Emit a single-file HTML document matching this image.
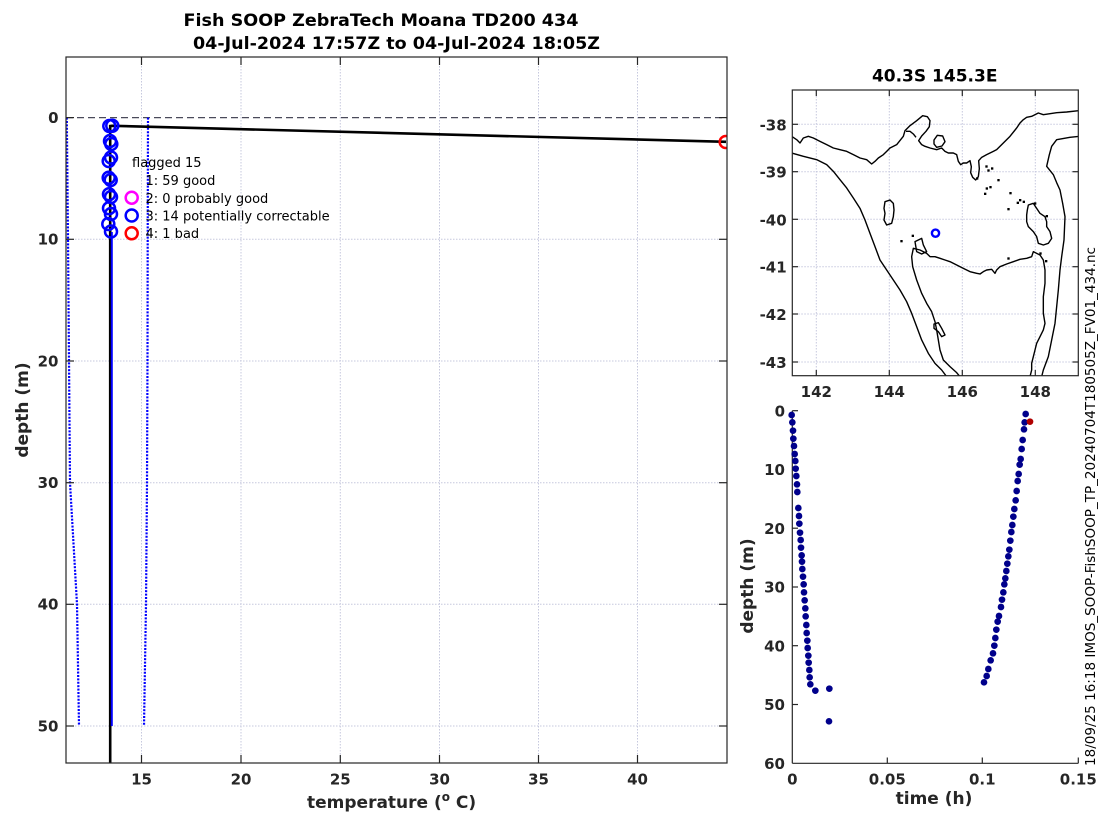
<!DOCTYPE html>
<html><head><meta charset="utf-8"><style>html,body{margin:0;padding:0;background:#fff}svg{display:block}</style></head>
<body>
<svg width="1100" height="820" viewBox="0 0 1100 820" xmlns="http://www.w3.org/2000/svg" font-family="'DejaVu Sans','Liberation Sans',sans-serif" fill="#262626">
<rect width="1100" height="820" fill="#fff"/>
<defs>
<clipPath id="cm"><rect x="792.3" y="90" width="286" height="285.7"/></clipPath>
<clipPath id="cp"><rect x="66" y="57" width="661" height="706"/></clipPath>
</defs>

<!-- ===== MAIN PLOT ===== -->
<text x="381" y="26" font-size="17" font-weight="bold" text-anchor="middle" textLength="395" lengthAdjust="spacingAndGlyphs" fill="#000">Fish SOOP ZebraTech Moana TD200 434</text>
<text x="396.5" y="49" font-size="17" font-weight="bold" text-anchor="middle" textLength="407" lengthAdjust="spacingAndGlyphs" fill="#000">04-Jul-2024 17:57Z to 04-Jul-2024 18:05Z</text>

<g stroke="#c6c8de" stroke-width="1" stroke-dasharray="1.5,1.5" fill="none">
<line x1="141.5" y1="57" x2="141.5" y2="763"/><line x1="241" y1="57" x2="241" y2="763"/><line x1="340.3" y1="57" x2="340.3" y2="763"/><line x1="439.5" y1="57" x2="439.5" y2="763"/><line x1="538.5" y1="57" x2="538.5" y2="763"/><line x1="637.5" y1="57" x2="637.5" y2="763"/>
<line x1="66" y1="239.3" x2="727" y2="239.3"/><line x1="66" y1="361" x2="727" y2="361"/><line x1="66" y1="482.7" x2="727" y2="482.7"/><line x1="66" y1="604.3" x2="727" y2="604.3"/><line x1="66" y1="726" x2="727" y2="726"/>
</g>

<g clip-path="url(#cp)">
<line x1="66" y1="117.6" x2="727" y2="117.6" stroke="#4a4a5a" stroke-width="1.3" stroke-dasharray="7,4"/>
<polyline points="66.8,117.6 68,239.3 69,361 70,482.7 77,604.3 79,726" fill="none" stroke="#0000ff" stroke-width="2.2" stroke-dasharray="2,1.4"/>
<polyline points="148,117.6 147.7,239.3 147.5,361 147,482.7 146,604.3 144,726" fill="none" stroke="#0000ff" stroke-width="2.2" stroke-dasharray="2,1.4"/>
<polyline points="110.2,763 110.2,126 112,125.8 726,141.8" fill="none" stroke="#000" stroke-width="2.6"/>
<line x1="111.8" y1="232" x2="111.8" y2="726" stroke="#0000ff" stroke-width="2"/>
<g fill="none" stroke="#0000ff" stroke-width="2.5">
<circle cx="109.3" cy="126" r="6"/><circle cx="112.3" cy="125.7" r="6"/>
<circle cx="110" cy="141" r="6"/><circle cx="111.3" cy="144" r="6"/>
<circle cx="108.7" cy="161" r="6"/><circle cx="111" cy="157.5" r="6"/>
<circle cx="108.7" cy="177.7" r="6"/><circle cx="110.7" cy="180" r="6"/>
<circle cx="109" cy="194.3" r="6"/><circle cx="111" cy="197" r="6"/>
<circle cx="109" cy="208.3" r="6"/><circle cx="111" cy="214" r="6"/>
<circle cx="108.3" cy="224" r="6"/><circle cx="111" cy="231.5" r="6"/>
</g>
<circle cx="725.7" cy="142" r="6" fill="none" stroke="#ff0000" stroke-width="2.5"/>
</g>

<!-- legend -->
<g font-size="13" fill="#000">
<text x="132" y="167">flagged 15</text>
<text x="145.5" y="185">1: 59 good</text>
<text x="145.5" y="203">2: 0 probably good</text>
<text x="145.5" y="220.5">3: 14 potentially correctable</text>
<text x="145.5" y="238">4: 1 bad</text>
</g>
<circle cx="131.7" cy="197.7" r="6" fill="none" stroke="#ff00ff" stroke-width="2.5"/>
<circle cx="131.7" cy="215.5" r="6" fill="none" stroke="#0000ff" stroke-width="2.5"/>
<circle cx="131.7" cy="233.3" r="6" fill="none" stroke="#ff0000" stroke-width="2.5"/>

<!-- axes box and ticks -->
<rect x="66" y="57" width="661" height="706" fill="none" stroke="#262626" stroke-width="1.2"/>
<g stroke="#262626" stroke-width="1.2">
<line x1="141.5" y1="763" x2="141.5" y2="755"/><line x1="241" y1="763" x2="241" y2="755"/><line x1="340.3" y1="763" x2="340.3" y2="755"/><line x1="439.5" y1="763" x2="439.5" y2="755"/><line x1="538.5" y1="763" x2="538.5" y2="755"/><line x1="637.5" y1="763" x2="637.5" y2="755"/>
<line x1="141.5" y1="57" x2="141.5" y2="65"/><line x1="241" y1="57" x2="241" y2="65"/><line x1="340.3" y1="57" x2="340.3" y2="65"/><line x1="439.5" y1="57" x2="439.5" y2="65"/><line x1="538.5" y1="57" x2="538.5" y2="65"/><line x1="637.5" y1="57" x2="637.5" y2="65"/>
<line x1="66" y1="117.6" x2="74" y2="117.6"/><line x1="66" y1="239.3" x2="74" y2="239.3"/><line x1="66" y1="361" x2="74" y2="361"/><line x1="66" y1="482.7" x2="74" y2="482.7"/><line x1="66" y1="604.3" x2="74" y2="604.3"/><line x1="66" y1="726" x2="74" y2="726"/>
<line x1="727" y1="117.6" x2="719" y2="117.6"/><line x1="727" y1="239.3" x2="719" y2="239.3"/><line x1="727" y1="361" x2="719" y2="361"/><line x1="727" y1="482.7" x2="719" y2="482.7"/><line x1="727" y1="604.3" x2="719" y2="604.3"/><line x1="727" y1="726" x2="719" y2="726"/>
</g>
<g font-size="15" font-weight="bold" text-anchor="end">
<text x="58.5" y="123">0</text><text x="58.5" y="244.7">10</text><text x="58.5" y="366.4">20</text><text x="58.5" y="488.1">30</text><text x="58.5" y="609.7">40</text><text x="58.5" y="731.4">50</text>
</g>
<g font-size="15" font-weight="bold" text-anchor="middle">
<text x="141.5" y="784.5">15</text><text x="241" y="784.5">20</text><text x="340.3" y="784.5">25</text><text x="439.5" y="784.5">30</text><text x="538.5" y="784.5">35</text><text x="637.5" y="784.5">40</text>
</g>
<text x="307" y="808" font-size="17" font-weight="bold">temperature (<tspan dy="-7" font-size="12">o</tspan><tspan dy="7"> C)</tspan></text>
<text transform="translate(28,410) rotate(-90)" font-size="17" font-weight="bold" text-anchor="middle">depth (m)</text>

<!-- ===== MAP ===== -->
<text x="934.7" y="81.5" font-size="17" font-weight="bold" text-anchor="middle" fill="#000">40.3S 145.3E</text>
<g stroke="#c6c8de" stroke-width="1" stroke-dasharray="1.5,1.5" fill="none">
<line x1="816.3" y1="90" x2="816.3" y2="375.7"/><line x1="889.3" y1="90" x2="889.3" y2="375.7"/><line x1="962.3" y1="90" x2="962.3" y2="375.7"/><line x1="1035.3" y1="90" x2="1035.3" y2="375.7"/>
<line x1="792.3" y1="124.3" x2="1078.3" y2="124.3"/><line x1="792.3" y1="171.7" x2="1078.3" y2="171.7"/><line x1="792.3" y1="219.3" x2="1078.3" y2="219.3"/><line x1="792.3" y1="266.7" x2="1078.3" y2="266.7"/><line x1="792.3" y1="314" x2="1078.3" y2="314"/><line x1="792.3" y1="362" x2="1078.3" y2="362"/>
</g>
<g clip-path="url(#cm)">
<g transform="translate(730,60) scale(0.33333)" fill="none" stroke="#000" stroke-width="4.2" stroke-linejoin="round">
<!-- Victoria coast -->
<polyline points="185,229 200,239 210,249 220,234 235,229 250,234 270,244 290,254 310,264 330,269 350,274 370,284 390,294 410,299 425,312 435,304 445,294 460,284 470,274 480,264 500,254 520,229 525,212 540,197 560,182 578,167 592,170 600,182 598,200 588,214 575,228 566,242 575,254 585,259 600,264 620,269 635,264 645,274 655,279 670,279 680,284 685,304 692,314 700,309 710,309 720,302 724,320 722,338 728,352 737,360 745,350 748,326 746,302 755,292 770,284 780,279 790,274 800,269 820,249 840,229 860,204 870,189 880,179 890,172 905,169 925,159 940,164 960,161 980,158 1010,156 1046,152"/>
<polyline points="528,214 540,214 550,222 558,232"/>
<polygon points="612,240 622,226 638,228 645,245 636,258 620,262 612,252"/>
<!-- shelf contours -->
<polyline points="185,279 220,289 260,299 290,314 310,334 330,359 350,384 370,414 390,445 405,480 420,520 435,560 450,600 470,630 490,660 510,690 530,725 545,760 560,800 575,840 595,880 615,910 635,930 650,950"/>
<polyline points="1048,229 1020,232 980,239 965,259 958,284 950,319 970,344 980,368 990,390 998,430 1005,470 1002,540 995,590 990,630 985,690 980,740 975,790 965,840 955,890 940,930 935,950"/>
<!-- King Island -->
<polygon points="465,425 480,420 490,430 492,450 490,470 485,490 470,495 462,480 465,460 462,445"/>
<!-- Flinders Island -->
<polygon points="895,435 910,430 920,445 930,460 945,470 950,485 950,500 960,515 965,535 955,550 940,555 925,550 920,530 910,515 895,500 890,485 890,465 892,450"/>
<!-- Tasmania -->
<polyline points="690,950 680,938 660,920 640,900 630,870 625,840 620,810 615,785 605,755 590,730 575,700 560,660 548,620 545,590 550,565 570,570 590,580 600,590 615,590 630,595 645,600 660,605 680,615 700,625 720,635 740,640 750,642 760,635 770,630 785,628 795,640 800,630 810,620 830,612 850,605 870,598 890,595 905,590 910,575 920,580 930,585 940,600 945,630 945,670 940,710 940,760 945,790 940,810 930,830 920,850 915,870 910,890 905,910 905,930 900,950"/>
<polygon points="555,545 575,535 580,555 590,575 575,582 560,575"/>
<polygon points="612,792 625,788 635,805 645,825 635,830 625,815 612,805"/>
</g>
<g transform="translate(730,60) scale(0.33333)" fill="#000">
<rect x="766" y="316" width="7" height="7"/><rect x="772" y="328" width="7" height="7"/><rect x="738" y="352" width="7" height="7"/><rect x="767" y="382" width="7" height="7"/><rect x="762" y="398" width="7" height="7"/><rect x="802" y="357" width="7" height="7"/><rect x="838" y="396" width="7" height="7"/><rect x="832" y="444" width="7" height="7"/><rect x="867" y="417" width="7" height="7"/><rect x="878" y="422" width="7" height="7"/><rect x="832" y="592" width="7" height="7"/><rect x="947" y="465" width="7" height="7"/><rect x="928" y="577" width="7" height="7"/><rect x="912" y="427" width="7" height="7"/><rect x="545" y="524" width="7" height="7"/><rect x="511" y="540" width="7" height="7"/><rect x="778" y="378" width="7" height="7"/><rect x="783" y="322" width="7" height="7"/><rect x="860" y="425" width="7" height="7"/><rect x="945" y="600" width="7" height="7"/>
</g>
</g>
<circle cx="935.5" cy="233.2" r="3.6" fill="none" stroke="#0000ff" stroke-width="2.4"/>
<rect x="792.3" y="90" width="286" height="285.7" fill="none" stroke="#262626" stroke-width="1.2"/>
<g stroke="#262626" stroke-width="1.2">
<line x1="816.3" y1="375.7" x2="816.3" y2="370"/><line x1="889.3" y1="375.7" x2="889.3" y2="370"/><line x1="962.3" y1="375.7" x2="962.3" y2="370"/><line x1="1035.3" y1="375.7" x2="1035.3" y2="370"/>
<line x1="816.3" y1="90" x2="816.3" y2="96"/><line x1="889.3" y1="90" x2="889.3" y2="96"/><line x1="962.3" y1="90" x2="962.3" y2="96"/><line x1="1035.3" y1="90" x2="1035.3" y2="96"/>
<line x1="792.3" y1="124.3" x2="798" y2="124.3"/><line x1="792.3" y1="171.7" x2="798" y2="171.7"/><line x1="792.3" y1="219.3" x2="798" y2="219.3"/><line x1="792.3" y1="266.7" x2="798" y2="266.7"/><line x1="792.3" y1="314" x2="798" y2="314"/><line x1="792.3" y1="362" x2="798" y2="362"/>
<line x1="1078.3" y1="124.3" x2="1072.5" y2="124.3"/><line x1="1078.3" y1="171.7" x2="1072.5" y2="171.7"/><line x1="1078.3" y1="219.3" x2="1072.5" y2="219.3"/><line x1="1078.3" y1="266.7" x2="1072.5" y2="266.7"/><line x1="1078.3" y1="314" x2="1072.5" y2="314"/><line x1="1078.3" y1="362" x2="1072.5" y2="362"/>
</g>
<g font-size="15" font-weight="bold" text-anchor="end">
<text x="786.7" y="130.3">-38</text><text x="786.7" y="177.7">-39</text><text x="786.7" y="225.3">-40</text><text x="786.7" y="272.7">-41</text><text x="786.7" y="320">-42</text><text x="786.7" y="368">-43</text>
</g>
<g font-size="15" font-weight="bold" text-anchor="middle">
<text x="816.3" y="397">142</text><text x="889.3" y="397">144</text><text x="962.3" y="397">146</text><text x="1035.3" y="397">148</text>
</g>

<!-- ===== TIME-DEPTH PLOT ===== -->
<g stroke="#262626" stroke-width="1.2">
<line x1="792.3" y1="410.7" x2="792.3" y2="763.3"/><line x1="792.3" y1="763.3" x2="1078.3" y2="763.3"/>
<line x1="792.3" y1="410.7" x2="798" y2="410.7"/><line x1="792.3" y1="469.4" x2="798" y2="469.4"/><line x1="792.3" y1="528.2" x2="798" y2="528.2"/><line x1="792.3" y1="587" x2="798" y2="587"/><line x1="792.3" y1="645.7" x2="798" y2="645.7"/><line x1="792.3" y1="704.5" x2="798" y2="704.5"/>
<line x1="887.3" y1="763.3" x2="887.3" y2="757.5"/><line x1="982.3" y1="763.3" x2="982.3" y2="757.5"/><line x1="1078.3" y1="763.3" x2="1078.3" y2="757.5"/>
</g>
<g transform="translate(730,390) scale(0.33333)" fill="#00008b">
<circle cx="185" cy="75" r="10"/><circle cx="187" cy="97" r="10"/><circle cx="189" cy="122" r="10"/><circle cx="190" cy="146" r="10"/><circle cx="192" cy="168" r="10"/><circle cx="194" cy="192" r="10"/><circle cx="196" cy="213" r="10"/><circle cx="197" cy="236" r="10"/><circle cx="199" cy="258" r="10"/><circle cx="201" cy="283" r="10"/><circle cx="202" cy="306" r="10"/><circle cx="205" cy="354" r="10"/><circle cx="207" cy="378" r="10"/><circle cx="208" cy="401" r="10"/><circle cx="210" cy="428" r="10"/><circle cx="212" cy="450" r="10"/><circle cx="213" cy="473" r="10"/><circle cx="215" cy="496" r="10"/><circle cx="216" cy="515" r="10"/><circle cx="217" cy="537" r="10"/><circle cx="219" cy="560" r="10"/><circle cx="221" cy="583" r="10"/><circle cx="222" cy="607" r="10"/><circle cx="224" cy="631" r="10"/><circle cx="226" cy="655" r="10"/><circle cx="227" cy="679" r="10"/><circle cx="229" cy="705" r="10"/><circle cx="230" cy="729" r="10"/><circle cx="232" cy="752" r="10"/><circle cx="233" cy="774" r="10"/><circle cx="235" cy="797" r="10"/><circle cx="236" cy="818" r="10"/><circle cx="238" cy="840" r="10"/><circle cx="239" cy="862" r="10"/><circle cx="241" cy="883" r="10"/><circle cx="256" cy="902" r="10"/><circle cx="298" cy="896" r="10"/><circle cx="297" cy="994" r="10"/>
<circle cx="762" cy="877" r="10"/><circle cx="770" cy="858" r="10"/><circle cx="775" cy="837" r="10"/><circle cx="782" cy="811" r="10"/><circle cx="789" cy="790" r="10"/><circle cx="793" cy="767" r="10"/><circle cx="796" cy="744" r="10"/><circle cx="799" cy="719" r="10"/><circle cx="803" cy="695" r="10"/><circle cx="807" cy="678" r="10"/><circle cx="813" cy="651" r="10"/><circle cx="816" cy="629" r="10"/><circle cx="820" cy="607" r="10"/><circle cx="823" cy="583" r="10"/><circle cx="826" cy="565" r="10"/><circle cx="829" cy="543" r="10"/><circle cx="832" cy="521" r="10"/><circle cx="835" cy="499" r="10"/><circle cx="838" cy="479" r="10"/><circle cx="841" cy="452" r="10"/><circle cx="844" cy="426" r="10"/><circle cx="847" cy="405" r="10"/><circle cx="850" cy="380" r="10"/><circle cx="853" cy="357" r="10"/><circle cx="857" cy="331" r="10"/><circle cx="860" cy="303" r="10"/><circle cx="863" cy="273" r="10"/><circle cx="866" cy="252" r="10"/><circle cx="869" cy="224" r="10"/><circle cx="872" cy="207" r="10"/><circle cx="875" cy="177" r="10"/><circle cx="878" cy="150" r="10"/><circle cx="882" cy="118" r="10"/><circle cx="884" cy="97" r="10"/><circle cx="887" cy="72" r="10"/>
<circle cx="900" cy="95" r="10" fill="#b00000"/>
</g>
<g font-size="15" font-weight="bold" text-anchor="end">
<text x="785" y="416.3">0</text><text x="785" y="475">10</text><text x="785" y="533.8">20</text><text x="785" y="592.6">30</text><text x="785" y="651.3">40</text><text x="785" y="710.1">50</text><text x="785" y="768.9">60</text>
</g>
<g font-size="15" font-weight="bold" text-anchor="middle">
<text x="792.3" y="784.5">0</text><text x="887.3" y="784.5">0.05</text><text x="982.3" y="784.5">0.1</text><text x="1078.3" y="784.5">0.15</text>
</g>
<text x="934" y="804" font-size="17" font-weight="bold" text-anchor="middle">time (h)</text>
<text transform="translate(753,586) rotate(-90)" font-size="17" font-weight="bold" text-anchor="middle">depth (m)</text>

<!-- file label -->
<text transform="translate(1095,766) rotate(-90)" font-size="13.5" fill="#000" textLength="519" lengthAdjust="spacingAndGlyphs">18/09/25 16:18 IMOS_SOOP-FishSOOP_TP_20240704T180505Z_FV01_434.nc</text>
</svg>
</body></html>
